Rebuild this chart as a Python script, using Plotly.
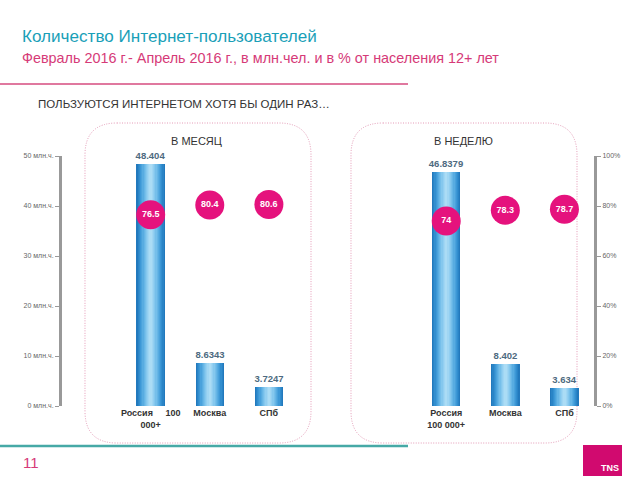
import plotly.graph_objects as go

# ---- data ----
cats_month = ["Россия\u00a0\u00a0\u00a0\u00a0\u00a0100<br>000+", "Москва", "СПб"]
cats_week = ["Россия<br>100 000+", "Москва", "СПб"]
month_users = [48.404, 8.6343, 3.7247]
month_pct = [76.5, 80.4, 80.6]
week_users = [46.8379, 8.402, 3.634]
week_pct = [74, 78.3, 78.7]
mln_ticks = [0, 10, 20, 30, 40, 50]
mln_ticktext = [f"{v} млн.ч." for v in mln_ticks]
pct_ticks = [0, 20, 40, 60, 80, 100]
pct_ticktext = [f"{v}%" for v in pct_ticks]

W, H = 640, 480
L, R, T, B = 62, 594, 156, 406  # plot area in pixels


def px(x):
    return (x - L) / (R - L)


def py(y):
    return (B - y) / (B - T)


xm = [0, 1, 2]
xw = [5, 6, 7]
xs = xm + xw
users = month_users + week_users
pcts = month_pct + week_pct

fig = go.Figure()

# gradient bars via layered overlay bars
layers = [
    (0.48, "#2279bd"),
    (0.44, "#2a84c6"),
    (0.40, "#328ecf"),
    (0.36, "#3d98d6"),
    (0.32, "#4aa2dc"),
    (0.28, "#58ace1"),
    (0.24, "#67b6e6"),
    (0.20, "#76bfea"),
    (0.16, "#85c8ee"),
    (0.12, "#93cff1"),
    (0.08, "#a0d6f3"),
    (0.04, "#abdcf5"),
]
for i, (w, c) in enumerate(layers):
    fig.add_trace(go.Bar(
        x=xs, y=users, width=[w] * len(xs),
        marker=dict(color=c, line=dict(width=0)),
        text=[f"<b>{v}</b>" for v in users] if i == 0 else None,
        textposition="outside" if i == 0 else "none",
        constraintext="none",
        textfont=dict(size=9.5, color="#4d6a80", family="Liberation Sans"),
        cliponaxis=False, showlegend=False, hoverinfo="skip",
    ))

# percentage circles
fig.add_trace(go.Scatter(
    x=xs, y=pcts, yaxis="y2", mode="markers+text",
    marker=dict(size=29, color="#e5127d", line=dict(width=0)),
    text=[f"<b>{v:g}</b>" for v in pcts],
    textposition="middle center",
    textfont=dict(size=9, color="white", family="Liberation Sans"),
    showlegend=False, hoverinfo="skip", cliponaxis=False,
))


def rrect(x0, y0, x1, y1, r):
    X = lambda v: f"{px(v):.5f}"
    Y = lambda v: f"{py(v):.5f}"
    return (f"M {X(x0 + r)},{Y(y0)} L {X(x1 - r)},{Y(y0)} Q {X(x1)},{Y(y0)} {X(x1)},{Y(y0 + r)} "
            f"L {X(x1)},{Y(y1 - r)} Q {X(x1)},{Y(y1)} {X(x1 - r)},{Y(y1)} "
            f"L {X(x0 + r)},{Y(y1)} Q {X(x0)},{Y(y1)} {X(x0)},{Y(y1 - r)} "
            f"L {X(x0)},{Y(y0 + r)} Q {X(x0)},{Y(y0)} {X(x0 + r)},{Y(y0)} Z")


shapes = []
for (a, b) in [(85, 311), (351, 577)]:
    shapes.append(dict(type="path", path=rrect(a, 123, b, 443, 32), xref="paper", yref="paper",
                       line=dict(color="#e49ab6", width=1, dash="1px,1.5px"), layer="below"))
# header and footer lines
shapes.append(dict(type="line", xref="paper", yref="paper", x0=px(0), x1=px(408), y0=py(84), y1=py(84),
                   line=dict(color="#e0789f", width=2)))
shapes.append(dict(type="line", xref="paper", yref="paper", x0=px(0), x1=px(408), y0=py(446), y1=py(446),
                   line=dict(color="#46a9a6", width=2.5)))
# TNS logo
shapes.append(dict(type="rect", xref="paper", yref="paper", x0=px(583), x1=px(622), y0=py(445), y1=py(476),
                   fillcolor="#d10a6f", line=dict(width=0)))

F = "Liberation Sans"
ann = [
    dict(text="Количество Интернет-пользователей", x=px(20), y=py(36), xanchor="left", yanchor="middle",
         font=dict(size=17.1, color="#1a9fb8", family=F)),
    dict(text="Февраль 2016 г.- Апрель 2016 г., в млн.чел. и в % от населения 12+ лет", x=px(20), y=py(58),
         xanchor="left", yanchor="middle", font=dict(size=14.4, color="#d63a78", family=F)),
    dict(text="ПОЛЬЗУЮТСЯ ИНТЕРНЕТОМ ХОТЯ БЫ ОДИН РАЗ…", x=px(36), y=py(104), xanchor="left", yanchor="middle",
         font=dict(size=11.5, color="#333333", family=F)),
    dict(text="В МЕСЯЦ", x=px(196), y=py(141), xanchor="center", yanchor="middle",
         font=dict(size=11, color="#333333", family=F)),
    dict(text="В НЕДЕЛЮ", x=px(463), y=py(141), xanchor="center", yanchor="middle",
         font=dict(size=11, color="#333333", family=F)),
    dict(text="11", x=px(21), y=py(462), xanchor="left", yanchor="middle",
         font=dict(size=15, color="#d63a78", family=F)),
    dict(text="<b>TNS</b>", x=px(621), y=py(475), xanchor="right", yanchor="bottom",
         font=dict(size=9, color="white", family=F)),
]
for a in ann:
    a.update(xref="paper", yref="paper", showarrow=False)

fig.update_layout(
    width=W, height=H,
    margin=dict(l=L, r=W - R, t=T, b=H - B, pad=0),
    paper_bgcolor="white", plot_bgcolor="white",
    barmode="overlay", bargap=0,
    shapes=shapes, annotations=ann,
    xaxis=dict(range=[-1.5, 7.5], tickvals=xs,
               ticktext=[f"<b>{t}</b>" for t in cats_month + cats_week],
               tickfont=dict(size=9, color="#333333", family=F),
               showgrid=False, zeroline=False, showline=False, ticks="", fixedrange=True),
    yaxis=dict(range=[0, 50], tickvals=mln_ticks, ticktext=mln_ticktext,
               tickfont=dict(size=7, color="#666666", family=F),
               ticks="outside", ticklen=4, tickcolor="#999999", tickwidth=1,
               showline=True, linecolor="#999999", linewidth=3, mirror=False,
               showgrid=False, zeroline=False),
    yaxis2=dict(range=[0, 100], tickvals=pct_ticks, ticktext=pct_ticktext, overlaying="y", side="right",
                tickfont=dict(size=7, color="#666666", family=F),
                ticks="outside", ticklen=4, tickcolor="#999999", tickwidth=1,
                showline=True, linecolor="#999999", linewidth=3,
                showgrid=False, zeroline=False),
)

fig.write_html("out.html")
